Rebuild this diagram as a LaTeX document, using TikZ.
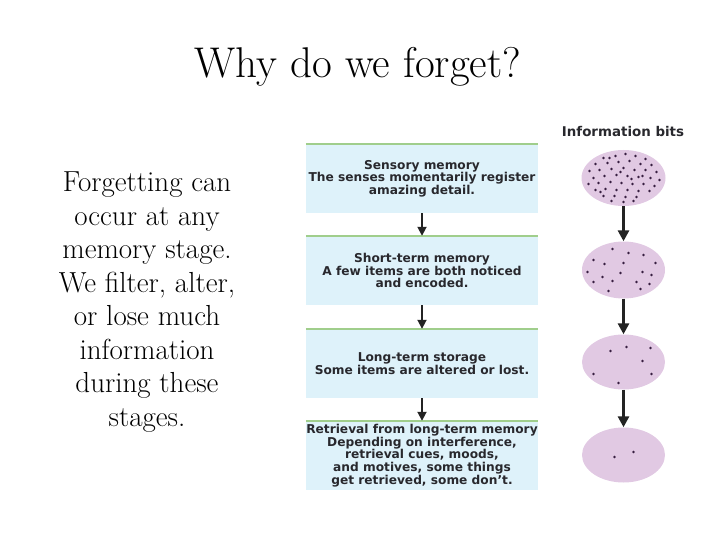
\documentclass[tikz,border=0pt]{standalone}
\usepackage{fontspec}
\newfontfamily\boxfont{DejaVu Sans}
\usetikzlibrary{shapes.geometric,arrows.meta}
\definecolor{boxfill}{RGB}{222,242,250}
\definecolor{boxline}{RGB}{160,206,140}
\definecolor{ellfill}{RGB}{225,201,227}
\definecolor{dotcol}{RGB}{55,30,65}
\definecolor{boxtext}{RGB}{40,40,45}
\definecolor{arrcol}{RGB}{35,35,35}
\tikzset{
  membox/.style={rectangle, fill=boxfill, minimum width=232, minimum height=69, inner sep=0, align=center, text=boxtext,
     font=\boxfont\bfseries\fontsize{12.2}{12.6}\selectfont},
  bitsell/.style={ellipse, fill=ellfill, inner sep=0, minimum width=83, minimum height=56},
  boxarr/.style={draw=arrcol, line width=1.8, -{Triangle[length=9,width=9]}},
  ellarr/.style={draw=arrcol, line width=2.8, -{Triangle[length=11,width=11]}},
  topline/.style={draw=boxline, line width=2.5},
  bitdot/.style={fill=dotcol},
}
\begin{document}
\begin{tikzpicture}[x=1pt,y=-1pt]
\useasboundingbox (0,0) rectangle (720,540);
\node[font=\fontsize{43}{46}\selectfont] (title) at (358,67) {Why do we forget?};
\node[align=center, font=\fontsize{29}{33.5}\selectfont] (lefttext) at (147,302)
 {Forgetting can\\occur at any\\memory stage.\\We filter, alter,\\or lose much\\information\\during these\\stages.};
% boxes
\node[membox] (b1) at (422,178.5) {Sensory memory\\The senses momentarily register\\amazing detail.};
\node[membox] (b2) at (422,270.5) {Short-term memory\\A few items are both noticed\\and encoded.};
\node[membox] (b3) at (422,363.5) {Long-term storage\\Some items are altered or lost.};
\node[membox] (b4) at (422,455.5) {Retrieval from long-term memory\\Depending on interference,\\retrieval cues, moods,\\and motives, some things\\get retrieved, some don’t.};
\foreach \b in {b1,b2,b3,b4} {\draw[topline] (\b.north west) -- (\b.north east);}
\draw[boxarr] (b1.south) -- (b2.north);
\draw[boxarr] (b2.south) -- (b3.north);
\draw[boxarr] (b3.south) -- (b4.north);
% information bits
\node[font=\boxfont\bfseries\fontsize{13.4}{15}\selectfont, text=boxtext] (lbl) at (623,132) {Information bits};
\node[bitsell, minimum width=84] (e1) at (623.5,178) {};
\node[bitsell, minimum height=57] (e2) at (623.5,270) {};
\node[bitsell, minimum height=55] (e3) at (623.5,362) {};
\node[bitsell, minimum height=55] (e4) at (623.5,455) {};
\draw[ellarr] (e1.south) -- (e2.north);
\draw[ellarr] (e2.south) -- (e3.north);
\draw[ellarr] (e3.south) -- (e4.north);
\foreach \dx/\dy in {-20/-20,-8/-22,2/-24,12/-22,22/-19,-28/-14,-16/-15,-5/-16,6/-17,17/-14,28/-13,-34/-7,-24/-8,-12/-9,0/-10,11/-8,22/-8,33/-6,-30/0,-19/-2,-7/-3,4/-2,15/-1,27/0,36/2,-35/6,-25/5,-13/4,-2/5,9/6,20/6,31/8,-28/12,-18/11,-7/12,4/12,15/13,26/13,-20/18,-9/18,2/19,13/19,-12/23,0/24,10/23,-3/-6,8/1,-14/-20,19/-2,-23/14}
  {\fill[bitdot] ([shift={(\dx,\dy)}]e1.center) circle (1.3);}
\foreach \dx/\dy in {-11/-21,5/-17,20/-15,-30/-10,-19/-6,0/-7,32/-7,-36/2,-3/3,19/2,28/5,-21/7,-30/12,-11/11,13/12,26/14,17/19,-15/21}
  {\fill[bitdot] ([shift={(\dx,\dy)}]e2.center) circle (1.3);}
\foreach \dx/\dy in {3/-15,27/-14,-13/-11,19/-1,-30/12,28/12,-5/21}
  {\fill[bitdot] ([shift={(\dx,\dy)}]e3.center) circle (1.3);}
\foreach \dx/\dy in {10/-3,-9/2}
  {\fill[bitdot] ([shift={(\dx,\dy)}]e4.center) circle (1.3);}
\end{tikzpicture}
\end{document}
